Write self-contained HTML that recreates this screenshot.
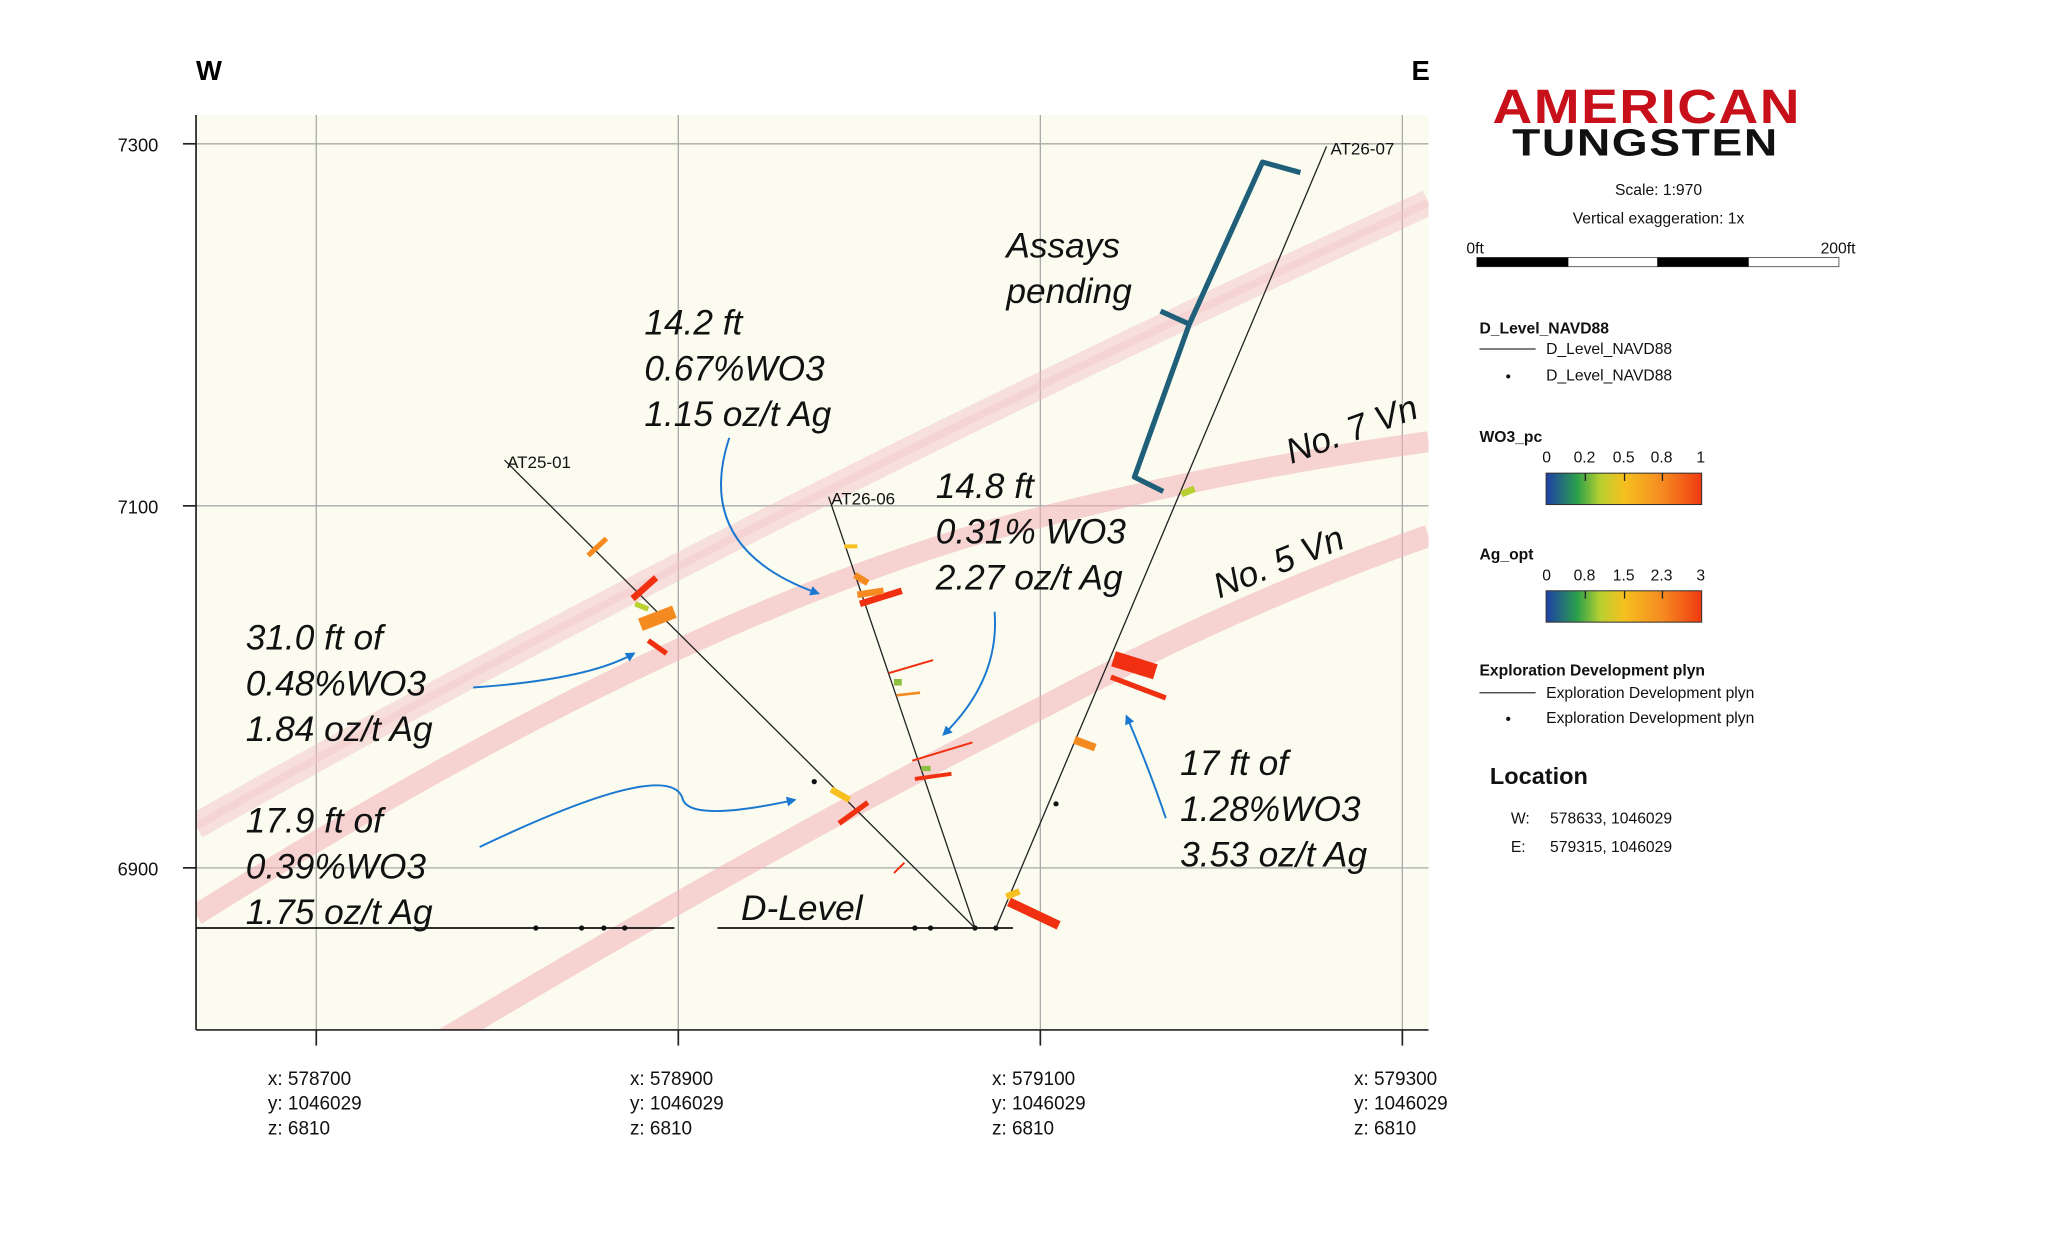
<!DOCTYPE html>
<html><head><meta charset="utf-8"><style>
html,body{margin:0;padding:0;background:#fff;}
svg{display:block;}
text{font-family:"Liberation Sans","DejaVu Sans",sans-serif;}
.an{font-style:italic;font-size:27px;fill:#111;}
.sm{font-size:12.5px;fill:#111;}
.lg{font-size:12px;fill:#111;}
</style></head><body>
<svg width="2048" height="1243" viewBox="0 0 1567 951" xmlns="http://www.w3.org/2000/svg">
<defs>
<linearGradient id="wo" x1="0" x2="1"><stop offset="0" stop-color="#1e3fa8"/><stop offset="0.2" stop-color="#2aa04a"/><stop offset="0.35" stop-color="#b8d030"/><stop offset="0.5" stop-color="#f5c020"/><stop offset="0.75" stop-color="#f58a20"/><stop offset="1" stop-color="#f03a10"/></linearGradient>
<marker id="ar" viewBox="0 0 10 10" refX="8" refY="5" markerWidth="5" markerHeight="5" orient="auto"><path d="M0,0L10,5L0,10z" fill="#1a78d0"/></marker>
</defs>
<rect x="150" y="88" width="943" height="700" fill="#fbfbef"/>
<!-- grid -->
<g stroke="#aaa" stroke-width="1">
<line x1="242" y1="88" x2="242" y2="788"/><line x1="519" y1="88" x2="519" y2="788"/>
<line x1="796" y1="88" x2="796" y2="788"/><line x1="1073" y1="88" x2="1073" y2="788"/>
<line x1="150" y1="110" x2="1093" y2="110"/><line x1="150" y1="387" x2="1093" y2="387"/><line x1="150" y1="664" x2="1093" y2="664"/>
</g>
<!-- bands -->
<svg x="150" y="88" width="943" height="700" viewBox="150 88 943 700" overflow="hidden">
<g fill="none" stroke-linecap="butt">
<path d="M150,632 Q560,400 1093,155" stroke="#f2b8bd" stroke-width="20" opacity="0.4"/>
<path d="M150,632 Q560,400 1093,155" stroke="#f4c4c8" stroke-width="6" opacity="0.4"/>
<path d="M150,700 Q500,480 760,405 Q930,360 1093,338" stroke="#f2b0b8" stroke-width="16" opacity="0.55"/>
<path d="M340,795 Q600,640 800,540 Q950,460 1093,410" stroke="#f2b0b8" stroke-width="17" opacity="0.55"/>
</g>
</svg>
<!-- axes -->
<g stroke="#222" stroke-width="1.3">
<line x1="150" y1="88" x2="150" y2="788"/><line x1="150" y1="788" x2="1093" y2="788"/>
<line x1="140" y1="110" x2="150" y2="110"/><line x1="140" y1="387" x2="150" y2="387"/><line x1="140" y1="664" x2="150" y2="664"/>
<line x1="242" y1="788" x2="242" y2="800"/><line x1="519" y1="788" x2="519" y2="800"/><line x1="796" y1="788" x2="796" y2="800"/><line x1="1073" y1="788" x2="1073" y2="800"/>
</g>
<g class="sm"><text x="90" y="116" style="font-size:14px">7300</text><text x="90" y="393" style="font-size:14px">7100</text><text x="90" y="670" style="font-size:14px">6900</text></g>
<text x="150" y="61" font-size="21" font-weight="bold">W</text>
<text x="1080" y="61" font-size="21" font-weight="bold">E</text>
<!-- bottom labels -->
<g style="font-size:14.5px" fill="#111">
<text x="205" y="830">x: 578700</text><text x="205" y="849">y: 1046029</text><text x="205" y="868">z: 6810</text>
<text x="482" y="830">x: 578900</text><text x="482" y="849">y: 1046029</text><text x="482" y="868">z: 6810</text>
<text x="759" y="830">x: 579100</text><text x="759" y="849">y: 1046029</text><text x="759" y="868">z: 6810</text>
<text x="1036" y="830">x: 579300</text><text x="1036" y="849">y: 1046029</text><text x="1036" y="868">z: 6810</text>
</g>
<!-- D level -->
<g stroke="#111" stroke-width="1.3"><line x1="150" y1="710" x2="516" y2="710"/><line x1="549" y1="710" x2="775" y2="710"/></g>
<g fill="#111"><circle cx="410" cy="710" r="2"/><circle cx="445" cy="710" r="2"/><circle cx="462" cy="710" r="2"/><circle cx="478" cy="710" r="2"/><circle cx="700" cy="710" r="2"/><circle cx="712" cy="710" r="2"/><circle cx="746" cy="710" r="2"/><circle cx="762" cy="710" r="2"/><circle cx="623" cy="598" r="2"/><circle cx="808" cy="615" r="2"/></g>
<!-- drill holes -->
<g stroke="#222" stroke-width="1"><line x1="386" y1="352" x2="746" y2="710"/><line x1="634" y1="380" x2="746" y2="710"/><line x1="1015" y1="112" x2="762" y2="710"/></g>
<g style="font-size:13px" fill="#111"><text x="388" y="358">AT25-01</text><text x="636" y="386">AT26-06</text><text x="1018" y="118">AT26-07</text></g>
<!-- assay bars -->
<g stroke-linecap="butt">
<line x1="450" y1="425" x2="464" y2="412" stroke="#f58a20" stroke-width="4"/>
<line x1="484" y1="458" x2="502" y2="442" stroke="#f03010" stroke-width="5"/>
<line x1="490" y1="478" x2="516" y2="468" stroke="#f58a20" stroke-width="10"/>
<line x1="496" y1="490" x2="510" y2="500" stroke="#f03010" stroke-width="4"/>
<line x1="486" y1="462" x2="496" y2="466" stroke="#b8d030" stroke-width="4"/>
<line x1="636" y1="604" x2="650" y2="612" stroke="#f5c020" stroke-width="5"/>
<line x1="642" y1="630" x2="664" y2="614" stroke="#f03010" stroke-width="4"/>
<line x1="646" y1="418" x2="656" y2="418" stroke="#f5c020" stroke-width="3"/>
<line x1="654" y1="440" x2="664" y2="446" stroke="#f58a20" stroke-width="5"/>
<line x1="658" y1="462" x2="690" y2="452" stroke="#f03010" stroke-width="5"/>
<line x1="656" y1="455" x2="676" y2="452" stroke="#f58a20" stroke-width="5"/>
<line x1="680" y1="515" x2="714" y2="505" stroke="#f03010" stroke-width="1.5"/>
<line x1="686" y1="532" x2="704" y2="530" stroke="#f58a20" stroke-width="2"/>
<line x1="698" y1="582" x2="744" y2="568" stroke="#f03010" stroke-width="1.5"/>
<line x1="700" y1="596" x2="728" y2="592" stroke="#f03010" stroke-width="3"/>
<line x1="684" y1="668" x2="692" y2="660" stroke="#f03010" stroke-width="1.5"/>
<line x1="852" y1="504" x2="884" y2="514" stroke="#f03010" stroke-width="12"/>
<line x1="850" y1="518" x2="892" y2="534" stroke="#f03010" stroke-width="4"/>
<line x1="822" y1="566" x2="838" y2="572" stroke="#f58a20" stroke-width="6"/>
<line x1="772" y1="690" x2="810" y2="708" stroke="#f03010" stroke-width="7"/>
<line x1="770" y1="686" x2="780" y2="682" stroke="#f5c020" stroke-width="5"/>
<line x1="904" y1="378" x2="914" y2="374" stroke="#b8d030" stroke-width="5"/>
<line x1="684" y1="522" x2="690" y2="522" stroke="#8bc040" stroke-width="5"/>
<line x1="705" y1="588" x2="712" y2="588" stroke="#8bc040" stroke-width="4"/>
</g>
<!-- bracket -->
<path d="M995,132 L966,124 L910,248 L888,238 M910,248 L868,365 L890,376" fill="none" stroke="#1f5f7a" stroke-width="4" stroke-linejoin="round"/>
<!-- arrows -->
<g fill="none" stroke="#1a78d0" stroke-width="1.5" marker-end="url(#ar)">
<path d="M558,335 Q530,420 626,454"/>
<path d="M761,468 Q765,520 722,562"/>
<path d="M362,526 Q450,520 485,500"/>
<path d="M367,648 Q510,580 522,610 Q525,630 608,612"/>
<path d="M892,626 Q880,590 862,548"/>
</g>
<!-- annotations -->
<text class="an" x="493" y="256">14.2 ft</text><text class="an" x="493" y="291">0.67%WO3</text><text class="an" x="493" y="326">1.15 oz/t Ag</text>
<text class="an" x="770" y="197">Assays</text><text class="an" x="770" y="232">pending</text>
<text class="an" x="716" y="381">14.8 ft</text><text class="an" x="716" y="416">0.31% WO3</text><text class="an" x="716" y="451">2.27 oz/t Ag</text>
<text class="an" x="188" y="497">31.0 ft of</text><text class="an" x="188" y="532">0.48%WO3</text><text class="an" x="188" y="567">1.84 oz/t Ag</text>
<text class="an" x="188" y="637">17.9 ft of</text><text class="an" x="188" y="672">0.39%WO3</text><text class="an" x="188" y="707">1.75 oz/t Ag</text>
<text class="an" x="903" y="593">17 ft of</text><text class="an" x="903" y="628">1.28%WO3</text><text class="an" x="903" y="663">3.53 oz/t Ag</text>
<text class="an" x="567" y="704">D-Level</text>
<text class="an" transform="translate(988,355) rotate(-20)">No. 7 Vn</text>
<text class="an" transform="translate(933,458) rotate(-22)">No. 5 Vn</text>
<!-- legend -->
<text x="1142" y="94" font-size="37" font-weight="bold" fill="#c8101a" letter-spacing="1" textLength="236" lengthAdjust="spacingAndGlyphs">AMERICAN</text>
<text x="1157" y="119" font-size="29" font-weight="bold" fill="#111" letter-spacing="1" textLength="204" lengthAdjust="spacingAndGlyphs">TUNGSTEN</text>
<text x="1269" y="149" text-anchor="middle" class="lg">Scale: 1:970</text>
<text x="1269" y="171" text-anchor="middle" class="lg">Vertical exaggeration: 1x</text>
<text x="1122" y="194" class="lg">0ft</text><text x="1393" y="194" class="lg">200ft</text>
<rect x="1130" y="197" width="277" height="7" fill="#fff" stroke="#555" stroke-width="0.7"/>
<rect x="1130" y="197" width="70" height="7" fill="#000"/><rect x="1268" y="197" width="70" height="7" fill="#000"/>
<text x="1132" y="255" class="lg" font-weight="bold">D_Level_NAVD88</text>
<line x1="1132" y1="267" x2="1175" y2="267" stroke="#333"/><text x="1183" y="271" class="lg">D_Level_NAVD88</text>
<circle cx="1154" cy="288" r="1.6" fill="#111"/><text x="1183" y="291" class="lg">D_Level_NAVD88</text>
<text x="1132" y="338" class="lg" font-weight="bold">WO3_pc</text>
<g class="lg"><text x="1180" y="354">0</text><text x="1204" y="354">0.2</text><text x="1234" y="354">0.5</text><text x="1263" y="354">0.8</text><text x="1298" y="354">1</text></g>
<rect x="1183" y="362" width="119" height="24" fill="url(#wo)" stroke="#333" stroke-width="0.8"/>
<g stroke="#222"><line x1="1213" y1="362" x2="1213" y2="368"/><line x1="1243" y1="362" x2="1243" y2="368"/><line x1="1272" y1="362" x2="1272" y2="368"/></g>
<text x="1132" y="428" class="lg" font-weight="bold">Ag_opt</text>
<g class="lg"><text x="1180" y="444">0</text><text x="1204" y="444">0.8</text><text x="1234" y="444">1.5</text><text x="1263" y="444">2.3</text><text x="1298" y="444">3</text></g>
<rect x="1183" y="452" width="119" height="24" fill="url(#wo)" stroke="#333" stroke-width="0.8"/>
<g stroke="#222"><line x1="1213" y1="452" x2="1213" y2="458"/><line x1="1243" y1="452" x2="1243" y2="458"/><line x1="1272" y1="452" x2="1272" y2="458"/></g>
<text x="1132" y="517" class="lg" font-weight="bold">Exploration Development plyn</text>
<line x1="1132" y1="530" x2="1175" y2="530" stroke="#333"/><text x="1183" y="534" class="lg">Exploration Development plyn</text>
<circle cx="1154" cy="550" r="1.6" fill="#111"/><text x="1183" y="553" class="lg">Exploration Development plyn</text>
<text x="1140" y="600" font-size="18" font-weight="bold" fill="#111">Location</text>
<g class="lg"><text x="1156" y="630">W:</text><text x="1186" y="630">578633, 1046029</text><text x="1156" y="652">E:</text><text x="1186" y="652">579315, 1046029</text></g>
</svg>
</body></html>
